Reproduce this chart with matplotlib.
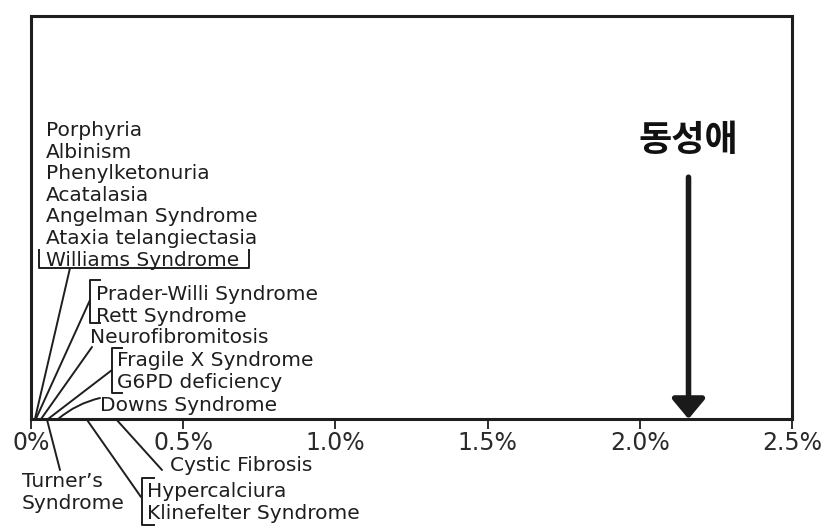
import matplotlib
matplotlib.use('Agg')
import matplotlib.pyplot as plt

# dados: prevalencia (%) de cada grupo de condicoes
grupos = [
    ['Porphyria', 'Albinism', 'Phenylketonuria', 'Acatalasia',
     'Angelman Syndrome', 'Ataxia telangiectasia', 'Williams Syndrome'],
    ['Prader-Willi Syndrome', 'Rett Syndrome'],
    ['Neurofibromitosis'],
    ['Fragile X Syndrome', 'G6PD deficiency'],
    ['Downs Syndrome'],
    ["Turner\u2019s", 'Syndrome'],
    ['Hypercalciura', 'Klinefelter Syndrome'],
    ['Cystic Fibrosis'],
]
prevalencia = [0.013, 0.016, 0.033, 0.056, 0.089, 0.052, 0.182, 0.279]

destaque_label = '동성애'
destaque_valor = 2.16

xticks = [0, 0.5, 1.0, 1.5, 2.0, 2.5]
xtick_labels = ['0%', '0.5%', '1.0%', '1.5%', '2.0%', '2.5%']

# layout em pixels (x, baseline do primeiro texto, ponta da linha, colchete)
W, H = 825, 528
layout = [
    dict(x=46, y=136, fim=(70, 268), colchete=('u', 39, 249, 250, 268)),
    dict(x=96, y=300, fim=(90, 300), colchete=('[', 90, 100, 280, 323)),
    dict(x=90, y=343, fim=(92, 347), colchete=None),
    dict(x=117, y=366, fim=(112, 370), colchete=('[', 112, 122, 348, 393)),
    dict(x=100, y=411, fim=(100, 398), colchete=None),
    dict(x=22, y=487, fim=(60, 470), colchete=None),
    dict(x=147, y=497, fim=(141, 497), colchete=('[', 142, 154, 478, 525)),
    dict(x=170, y=471, fim=(162, 470), colchete=None),
]
passo = 21.6
cor = '#1e1e1e'

plt.rcParams['font.family'] = ['DejaVu Sans']

fig = plt.figure(figsize=(W / 100, H / 100), dpi=100)
ax = fig.add_axes([31 / W, 109 / H, 761 / W, 403 / H])
ax.set_xlim(0, 2.5)
ax.set_ylim(0, 1)
for s in ax.spines.values():
    s.set_linewidth(2.2)
    s.set_color(cor)
ax.set_yticks([])
ax.set_xticks(xticks)
ax.set_xticklabels(xtick_labels, fontsize=17, color='#2a2a2a')
ax.tick_params(axis='x', direction='out', length=7, width=1.3, pad=2, color=cor)

ov = fig.add_axes([0, 0, 1, 1], facecolor='none')
ov.set_xlim(0, W)
ov.set_ylim(H, 0)
ov.axis('off')

for nomes, val, lay in zip(grupos, prevalencia, layout):
    for i, nome in enumerate(nomes):
        ov.text(lay['x'], lay['y'] + i * passo, nome, fontsize=14.5,
                color=cor, va='baseline', ha='left')
    fx, fy = lay['fim']
    estilo = 'arc3,rad=0.12' if nomes[0] == 'Downs Syndrome' else 'arc3'
    ax.annotate('', xy=(val, 0), xycoords='data',
                xytext=(fx, H - fy), textcoords='figure pixels',
                arrowprops=dict(arrowstyle='-', lw=1.4, color=cor,
                                shrinkA=0, shrinkB=0, connectionstyle=estilo),
                annotation_clip=False)
    c = lay['colchete']
    if c is not None:
        tipo, x0, x1, y0, y1 = c
        if tipo == 'u':
            ov.plot([x0, x0, x1, x1], [y0, y1, y1, y0], color=cor, lw=1.4)
        else:
            ov.plot([x1, x0, x0, x1], [y0, y0, y1, y1], color=cor, lw=1.4)

# seta do destaque
ax.annotate('', xy=(destaque_valor, 0), xycoords='data',
            xytext=(destaque_valor, 0.60), textcoords='data',
            arrowprops=dict(arrowstyle='-|>,head_length=0.6,head_width=0.5',
                            lw=4, color='#1a1a1a', mutation_scale=20,
                            shrinkA=0, shrinkB=0))
ax.text(destaque_valor, 0.69, destaque_label, fontsize=26, fontweight='bold',
        family=['Noto Sans CJK KR', 'DejaVu Sans'], color='#111111',
        ha='center', va='center')

fig.savefig('out.png', dpi=100)
